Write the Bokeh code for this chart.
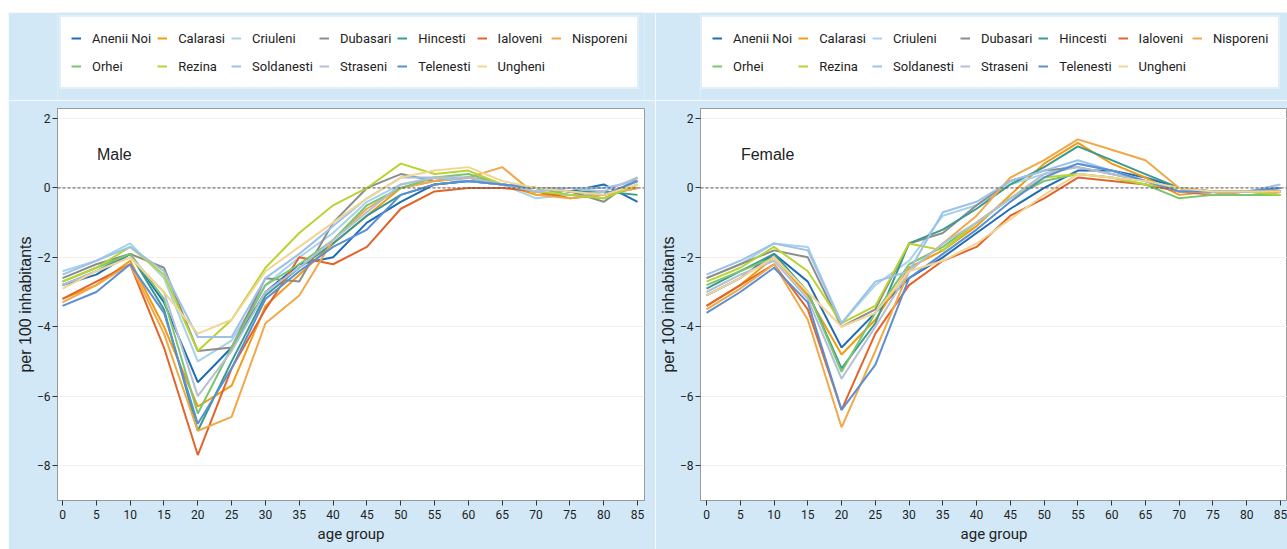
from bokeh.plotting import figure
from bokeh.layouts import row, column, Spacer
from bokeh.models import Legend, LegendItem, FixedTicker, Span, Label
from bokeh.embed import file_html
from bokeh.resources import INLINE

ages = [0, 5, 10, 15, 20, 25, 30, 35, 40, 45, 50, 55, 60, 65, 70, 75, 80, 85]
districts = ["Anenii Noi", "Calarasi", "Criuleni", "Dubasari", "Hincesti", "Ialoveni", "Nisporeni",
             "Orhei", "Rezina", "Soldanesti", "Straseni", "Telenesti", "Ungheni"]
colors = ["#1f6db3", "#f39c12", "#a6d2ea", "#8c8c8c", "#3a9a8e", "#e2642b", "#f0a848",
          "#7cc46f", "#b8d430", "#9cc2e8", "#b3bfd6", "#5b8fd4", "#f2d594"]

male_anenii_noi = [-2.8, -2.5, -1.9, -3.3, -5.6, -4.6, -3.0, -2.2, -2.0, -1.0, -0.4, 0.1, 0.2, 0.1, 0.0, -0.1, 0.1, -0.4]
male_calarasi = [-3.2, -2.8, -2.1, -4.0, -6.3, -5.7, -3.4, -2.5, -1.6, -0.8, 0.0, 0.2, 0.3, 0.1, -0.2, -0.2, -0.2, 0.2]
male_criuleni = [-2.4, -2.1, -1.6, -2.6, -5.0, -4.4, -2.8, -2.0, -1.3, -0.4, 0.1, 0.3, 0.3, 0.1, -0.3, -0.2, -0.2, 0.2]
male_dubasari = [-2.6, -2.2, -1.9, -2.3, -4.7, -4.6, -2.6, -2.7, -1.0, 0.0, 0.4, 0.2, 0.3, 0.1, 0.0, -0.1, -0.4, 0.3]
male_hincesti = [-2.8, -2.4, -1.9, -3.5, -7.0, -5.0, -3.1, -2.3, -1.6, -0.8, -0.2, 0.1, 0.2, 0.1, 0.0, -0.1, -0.1, -0.2]
male_ialoveni = [-3.2, -2.7, -2.2, -4.6, -7.7, -5.2, -3.5, -2.0, -2.2, -1.7, -0.6, -0.1, 0.0, 0.0, -0.1, -0.3, -0.2, 0.0]
male_nisporeni = [-3.3, -2.8, -2.2, -4.2, -7.0, -6.6, -3.9, -3.1, -1.5, -0.6, 0.0, 0.2, 0.3, 0.6, -0.2, -0.3, -0.2, 0.0]
male_orhei = [-2.7, -2.3, -1.9, -3.2, -6.5, -4.6, -2.8, -2.2, -1.5, -0.5, 0.0, 0.3, 0.4, 0.1, 0.0, -0.2, -0.3, 0.1]
male_rezina = [-2.7, -2.3, -1.7, -2.5, -4.7, -3.8, -2.3, -1.3, -0.5, 0.0, 0.7, 0.4, 0.5, 0.1, -0.1, -0.2, -0.3, 0.1]
male_soldanesti = [-2.5, -2.1, -1.7, -2.4, -4.3, -4.3, -2.6, -1.9, -1.1, -0.3, 0.3, 0.3, 0.2, 0.1, -0.1, 0.0, 0.0, 0.2]
male_straseni = [-2.8, -2.4, -2.0, -3.0, -6.0, -4.7, -3.0, -2.3, -1.5, -0.7, 0.1, 0.3, 0.3, 0.1, 0.0, 0.0, -0.1, 0.3]
male_telenesti = [-3.4, -3.0, -2.2, -3.6, -6.8, -5.2, -3.2, -2.4, -1.7, -1.2, -0.2, 0.1, 0.2, 0.1, 0.0, -0.1, -0.2, 0.2]
male_ungheni = [-2.9, -2.4, -2.0, -3.0, -4.2, -3.8, -2.4, -1.7, -1.0, -0.3, 0.3, 0.5, 0.6, 0.2, 0.0, -0.1, -0.2, 0.1]

female_anenii_noi = [-3.1, -2.6, -1.9, -2.7, -4.6, -3.6, -2.6, -2.0, -1.3, -0.6, 0.0, 0.5, 0.5, 0.3, 0.0, -0.1, -0.1, -0.1]
female_calarasi = [-3.4, -2.8, -2.0, -3.1, -4.8, -3.8, -2.3, -1.8, -1.1, -0.2, 0.7, 1.3, 0.7, 0.3, -0.2, -0.1, -0.1, -0.1]
female_criuleni = [-2.6, -2.2, -1.6, -1.7, -3.9, -2.8, -2.1, -0.8, -0.5, 0.1, 0.4, 0.7, 0.5, 0.2, -0.1, -0.1, -0.1, 0.0]
female_dubasari = [-2.6, -2.2, -1.8, -2.0, -4.0, -3.5, -1.6, -1.3, -0.5, 0.2, 0.5, 0.6, 0.4, 0.2, -0.1, -0.1, -0.1, 0.0]
female_hincesti = [-2.9, -2.4, -1.9, -3.0, -5.2, -3.9, -1.6, -1.2, -0.6, 0.1, 0.6, 1.2, 0.8, 0.4, 0.0, -0.1, -0.1, -0.2]
female_ialoveni = [-3.4, -2.8, -2.2, -3.5, -6.4, -4.2, -2.8, -2.1, -1.7, -0.8, -0.3, 0.3, 0.2, 0.1, -0.1, -0.2, -0.1, -0.1]
female_nisporeni = [-3.5, -2.9, -2.2, -3.8, -6.9, -4.7, -2.4, -1.6, -0.8, 0.3, 0.8, 1.4, 1.1, 0.8, 0.0, -0.2, -0.1, -0.1]
female_orhei = [-2.8, -2.4, -2.0, -3.0, -5.3, -3.6, -2.2, -1.7, -1.0, -0.3, 0.2, 0.4, 0.3, 0.1, -0.3, -0.2, -0.2, -0.2]
female_rezina = [-2.7, -2.3, -1.7, -2.4, -3.9, -3.4, -1.6, -1.8, -1.0, -0.3, 0.3, 0.4, 0.3, 0.1, 0.0, -0.1, -0.1, -0.2]
female_soldanesti = [-2.5, -2.1, -1.6, -1.8, -3.9, -2.7, -2.4, -0.7, -0.4, 0.2, 0.5, 0.8, 0.5, 0.2, -0.1, -0.1, -0.1, 0.1]
female_straseni = [-3.0, -2.5, -2.1, -3.2, -5.5, -4.0, -2.4, -1.6, -1.0, -0.3, 0.4, 0.6, 0.4, 0.2, -0.1, -0.1, -0.1, 0.0]
female_telenesti = [-3.6, -3.0, -2.3, -3.3, -6.4, -5.1, -2.6, -1.9, -1.2, -0.4, 0.3, 0.7, 0.5, 0.2, -0.1, -0.1, -0.1, 0.0]
female_ungheni = [-3.1, -2.6, -2.0, -3.0, -4.0, -3.6, -2.4, -2.1, -1.6, -0.9, -0.2, 0.4, 0.3, 0.2, 0.0, -0.1, -0.1, -0.1]

male_series = [male_anenii_noi, male_calarasi, male_criuleni, male_dubasari, male_hincesti, male_ialoveni,
               male_nisporeni, male_orhei, male_rezina, male_soldanesti, male_straseni, male_telenesti, male_ungheni]
female_series = [female_anenii_noi, female_calarasi, female_criuleni, female_dubasari, female_hincesti,
                 female_ialoveni, female_nisporeni, female_orhei, female_rezina, female_soldanesti,
                 female_straseni, female_telenesti, female_ungheni]

y_ticks = [2, 0, -2, -4, -6, -8]
BG = "#d2e8f6"


def make_legend_fig(width, x_off, series):
    # strip above each panel that only holds that panel's legend; the series lines
    # are drawn far outside its visible y range so only the legend keys show
    lf = figure(width=width, height=88, output_backend="svg", toolbar_location=None,
                x_axis_type=None, y_axis_type=None,
                x_range=(0, 85), y_range=(50, 51),
                min_border_left=0, min_border_right=0, min_border_top=0, min_border_bottom=0)
    lf.grid.grid_line_color = None
    lf.outline_line_color = None
    lf.background_fill_color = BG
    lf.border_fill_color = BG
    items = []
    for name, color, vals in zip(districts, colors, series):
        r = lf.line(ages, vals, line_color=color, line_width=2)
        items.append(LegendItem(label=name, renderers=[r]))
    legend = Legend(items=items, orientation="horizontal", nrows=2, location=(x_off, 11))
    legend.background_fill_color = "white"
    legend.background_fill_alpha = 1
    legend.border_line_color = "#c3e0f2"
    legend.border_line_width = 2
    legend.label_text_font = "Roboto"
    legend.label_text_font_size = "13px"
    legend.label_text_color = "#222222"
    legend.glyph_width = 10
    legend.glyph_height = 20
    legend.label_standoff = 11
    legend.label_height = 22
    legend.spacing = 6
    legend.padding = 10
    legend.margin = 0
    lf.add_layout(legend, "center")
    return lf


def make_panel(series, title, width, border_left, border_right, xr):
    p = figure(width=width, height=449, output_backend="svg", toolbar_location=None,
               x_range=xr, y_range=(-9.01, 2.29),
               min_border_left=border_left, min_border_right=border_right,
               min_border_top=8, min_border_bottom=49)
    p.border_fill_color = BG
    p.background_fill_color = "white"
    p.outline_line_color = "#9a9a9a"
    p.outline_line_width = 1
    p.xgrid.grid_line_color = None
    p.ygrid.grid_line_color = "#f6eded"
    p.ygrid.grid_line_width = 1

    p.xaxis.ticker = FixedTicker(ticks=ages)
    p.yaxis.ticker = FixedTicker(ticks=y_ticks)
    for ax in (p.xaxis[0], p.yaxis[0]):
        ax.axis_line_color = "#9a9a9a"
        ax.major_tick_line_color = "#333333"
        ax.major_tick_out = 5
        ax.major_tick_in = 0
        ax.minor_tick_line_color = None
        ax.major_label_text_font = "Roboto"
        ax.major_label_text_font_size = "12px"
        ax.major_label_text_color = "#222222"
        ax.axis_label_text_font_style = "normal"
        ax.axis_label_text_color = "#222222"
    p.xaxis.axis_label = "age group"
    p.xaxis.axis_label_text_font = "Roboto"
    p.xaxis.axis_label_text_font_size = "15px"
    p.xaxis.axis_label_standoff = 3
    p.xaxis.major_label_standoff = 4
    p.yaxis.axis_label = "per 100 inhabitants"
    p.yaxis.axis_label_text_font = "Liberation Sans"
    p.yaxis.axis_label_text_font_size = "16px"
    p.yaxis.axis_label_standoff = 0
    p.yaxis.major_label_standoff = 2

    p.add_layout(Span(location=0, dimension="width", line_color="#555555",
                      line_dash="3 2", line_width=1))

    for color, vals in zip(colors, series):
        p.line(ages, vals, line_color=color, line_width=2)

    p.add_layout(Label(x=5.1, y=0.95, text=title, text_font="Liberation Sans",
                       text_font_size="16px", text_color="#222222", text_baseline="middle"))
    return p


leg_male = make_legend_fig(647, 2, male_series)
leg_female = make_legend_fig(632, 0, female_series)
p_male = make_panel(male_series, "Male", 647, 49, 11, (-0.74, 86.03))
p_female = make_panel(female_series, "Female", 632, 45, 0, (-0.89, 86.04))

layout = column(
    Spacer(height=12, width=1287),
    row(Spacer(width=8, height=537),
        column(leg_male, p_male, spacing=0),
        column(leg_female, p_female, spacing=0),
        spacing=0),
    spacing=0,
)

open("out.html", "w").write(file_html(layout, INLINE))
